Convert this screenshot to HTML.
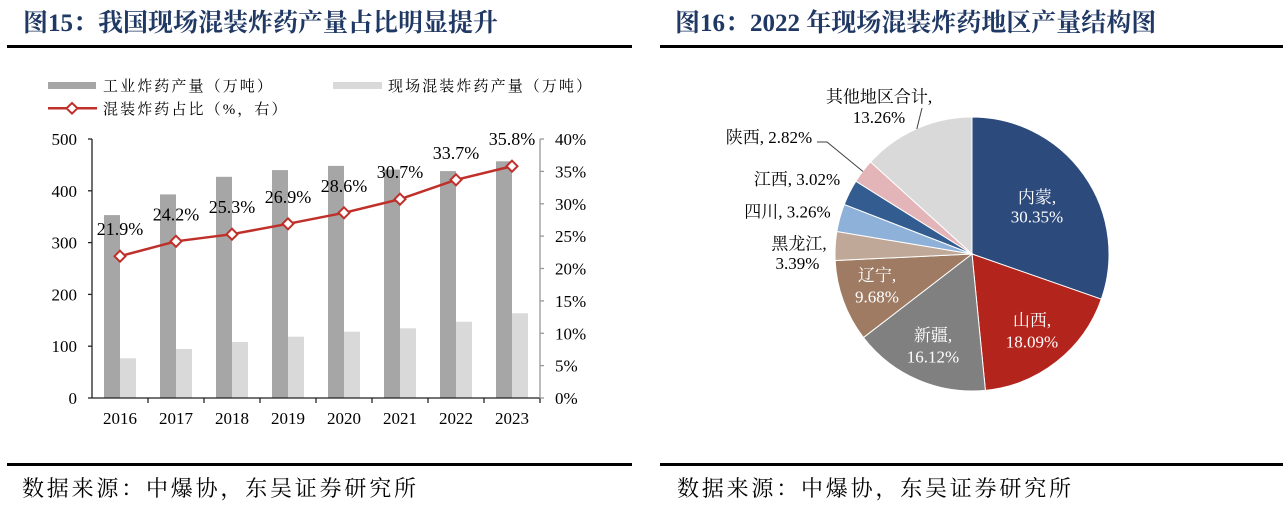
<!DOCTYPE html>
<html>
<head>
<meta charset="utf-8">
<style>
  html,body{margin:0;padding:0;background:#fff;}
  svg{display:block;}
  .ser{font-family:"Liberation Serif","Noto Serif CJK SC",serif;}
</style>
</head>
<body>
<svg width="1286" height="513" viewBox="0 0 1286 513" xmlns="http://www.w3.org/2000/svg" class="ser">
  <!-- Titles -->
  <text x="23" y="31" font-size="25" font-weight="bold" fill="#203864" class="ser">图15：我国现场混装炸药产量占比明显提升</text>
  <text x="675" y="31" font-size="25" font-weight="bold" fill="#203864" class="ser">图16：2022 年现场混装炸药地区产量结构图</text>
  <rect x="7" y="45" width="625" height="3" fill="#000"/>
  <rect x="660" y="45" width="623" height="3" fill="#000"/>

  <!-- Legend -->
  <rect x="48" y="82" width="48" height="7" fill="#A6A6A6"/>
  <text x="103" y="91" font-size="15" letter-spacing="2.1" fill="#000">工业炸药产量（万吨）</text>
  <rect x="333" y="82" width="49" height="7" fill="#D9D9D9"/>
  <text x="388" y="91" font-size="15" letter-spacing="2.1" fill="#000">现场混装炸药产量（万吨）</text>
  <line x1="48" y1="108.3" x2="97" y2="108.3" stroke="#C0302A" stroke-width="2.5"/>
  <polygon points="72,103 77.5,108.3 72,113.6 66.5,108.3" fill="#fff" stroke="#C0302A" stroke-width="2"/>
  <text x="103" y="114" font-size="15" letter-spacing="2.1" fill="#000">混装炸药占比（%，右）</text>

  <!-- Bars: dark -->
  <g fill="#A6A6A6">
    <rect x="104" y="215.1" width="16" height="182.9"/>
    <rect x="160" y="194.4" width="16" height="203.6"/>
    <rect x="216" y="176.8" width="16" height="221.2"/>
    <rect x="272" y="170.1" width="16" height="227.9"/>
    <rect x="328" y="165.9" width="16" height="232.1"/>
    <rect x="384" y="169.6" width="16" height="228.4"/>
    <rect x="440" y="171.1" width="16" height="226.9"/>
    <rect x="496" y="161.3" width="16" height="236.7"/>
  </g>
  <!-- Bars: light -->
  <g fill="#D9D9D9">
    <rect x="120" y="358.3" width="16" height="39.7"/>
    <rect x="176" y="349" width="16" height="49"/>
    <rect x="232" y="342" width="16" height="56"/>
    <rect x="288" y="336.7" width="16" height="61.3"/>
    <rect x="344" y="331.7" width="16" height="66.3"/>
    <rect x="400" y="328.3" width="16" height="69.7"/>
    <rect x="456" y="321.7" width="16" height="76.3"/>
    <rect x="512" y="313.3" width="16" height="84.7"/>
  </g>

  <!-- Axes -->
  <g stroke="#222" stroke-width="1.3">
    <line x1="92" y1="139" x2="92" y2="398"/>
    <line x1="88" y1="139" x2="92" y2="139"/>
    <line x1="88" y1="190.8" x2="92" y2="190.8"/>
    <line x1="88" y1="242.6" x2="92" y2="242.6"/>
    <line x1="88" y1="294.4" x2="92" y2="294.4"/>
    <line x1="88" y1="346.2" x2="92" y2="346.2"/>
    <line x1="88" y1="398" x2="540" y2="398"/>
    <line x1="148" y1="398" x2="148" y2="403"/>
    <line x1="204" y1="398" x2="204" y2="403"/>
    <line x1="260" y1="398" x2="260" y2="403"/>
    <line x1="316" y1="398" x2="316" y2="403"/>
    <line x1="372" y1="398" x2="372" y2="403"/>
    <line x1="428" y1="398" x2="428" y2="403"/>
    <line x1="484" y1="398" x2="484" y2="403"/>
    <line x1="540" y1="398" x2="540" y2="403"/>
  </g>
  <g stroke="#999" stroke-width="1.3">
    <line x1="540" y1="139" x2="540" y2="398"/>
    <line x1="540" y1="139" x2="544" y2="139"/>
    <line x1="540" y1="171.4" x2="544" y2="171.4"/>
    <line x1="540" y1="203.8" x2="544" y2="203.8"/>
    <line x1="540" y1="236.1" x2="544" y2="236.1"/>
    <line x1="540" y1="268.5" x2="544" y2="268.5"/>
    <line x1="540" y1="300.9" x2="544" y2="300.9"/>
    <line x1="540" y1="333.3" x2="544" y2="333.3"/>
    <line x1="540" y1="365.6" x2="544" y2="365.6"/>
    <line x1="540" y1="398" x2="544" y2="398"/>
  </g>

  <!-- Left axis labels -->
  <g font-size="17" fill="#000" text-anchor="end">
    <text x="77" y="145">500</text>
    <text x="77" y="196.8">400</text>
    <text x="77" y="248.6">300</text>
    <text x="77" y="300.4">200</text>
    <text x="77" y="352.2">100</text>
    <text x="77" y="404">0</text>
  </g>
  <!-- Right axis labels -->
  <g font-size="17" fill="#000">
    <text x="555" y="145">40%</text>
    <text x="555" y="177.4">35%</text>
    <text x="555" y="209.8">30%</text>
    <text x="555" y="242.1">25%</text>
    <text x="555" y="274.5">20%</text>
    <text x="555" y="306.9">15%</text>
    <text x="555" y="339.3">10%</text>
    <text x="555" y="371.6">5%</text>
    <text x="555" y="404">0%</text>
  </g>
  <!-- X labels -->
  <g font-size="17" fill="#000" text-anchor="middle">
    <text x="120" y="424">2016</text>
    <text x="176" y="424">2017</text>
    <text x="232" y="424">2018</text>
    <text x="288" y="424">2019</text>
    <text x="344" y="424">2020</text>
    <text x="400" y="424">2021</text>
    <text x="456" y="424">2022</text>
    <text x="512" y="424">2023</text>
  </g>

  <!-- Line series -->
  <polyline points="120,256.2 176,241.3 232,234.2 288,223.8 344,212.8 400,199.2 456,179.8 512,166.2" fill="none" stroke="#C0302A" stroke-width="2.5"/>
  <g fill="#fff" stroke="#C0302A" stroke-width="2">
    <polygon points="120,250.7 125.5,256.2 120,261.7 114.5,256.2"/>
    <polygon points="176,235.8 181.5,241.3 176,246.8 170.5,241.3"/>
    <polygon points="232,228.7 237.5,234.2 232,239.7 226.5,234.2"/>
    <polygon points="288,218.3 293.5,223.8 288,229.3 282.5,223.8"/>
    <polygon points="344,207.3 349.5,212.8 344,218.3 338.5,212.8"/>
    <polygon points="400,193.7 405.5,199.2 400,204.7 394.5,199.2"/>
    <polygon points="456,174.3 461.5,179.8 456,185.3 450.5,179.8"/>
    <polygon points="512,160.7 517.5,166.2 512,171.7 506.5,166.2"/>
  </g>
  <!-- Data labels -->
  <g font-size="18" fill="#000" text-anchor="middle">
    <text x="120" y="235.2">21.9%</text>
    <text x="176" y="220.3">24.2%</text>
    <text x="232" y="213.2">25.3%</text>
    <text x="288" y="202.8">26.9%</text>
    <text x="344" y="191.8">28.6%</text>
    <text x="400" y="178.2">30.7%</text>
    <text x="456" y="158.8">33.7%</text>
    <text x="512" y="145.2">35.8%</text>
  </g>

  <!-- Pie -->
  <g stroke="#fff" stroke-width="1">
    <path d="M972,254 L972,117 A137,137 0 0 1 1101.34,299.2 Z" fill="#2C4A7C"/>
    <path d="M972,254 L1101.34,299.2 A137,137 0 0 1 985.41,390.34 Z" fill="#B3241C"/>
    <path d="M972,254 L985.41,390.34 A137,137 0 0 1 863.43,337.56 Z" fill="#808080"/>
    <path d="M972,254 L863.43,337.56 A137,137 0 0 1 835.16,260.55 Z" fill="#9E7B62"/>
    <path d="M972,254 L835.16,260.55 A137,137 0 0 1 836.87,231.46 Z" fill="#C0A898"/>
    <path d="M972,254 L836.87,231.46 A137,137 0 0 1 844.27,204.46 Z" fill="#8EB1DA"/>
    <path d="M972,254 L844.27,204.46 A137,137 0 0 1 855.9,181.26 Z" fill="#335C91"/>
    <path d="M972,254 L855.9,181.26 A137,137 0 0 1 870.55,161.92 Z" fill="#E4B5B8"/>
    <path d="M972,254 L870.55,161.92 A137,137 0 0 1 972,117 Z" fill="#D9D9D9"/>
  </g>
  <!-- Leader lines -->
  <polyline points="817,142 827,142 863,171.5" fill="none" stroke="#404040" stroke-width="1"/>
  <line x1="922" y1="108" x2="916.8" y2="129" stroke="#404040" stroke-width="1"/>

  <!-- Pie labels -->
  <g font-size="17" text-anchor="middle">
    <text x="1037" y="203" fill="#fff">内蒙,</text>
    <text x="1037" y="222.5" fill="#fff">30.35%</text>
    <text x="1032" y="326" fill="#fff">山西,</text>
    <text x="1032" y="347.5" fill="#fff">18.09%</text>
    <text x="933" y="341" fill="#fff">新疆,</text>
    <text x="933" y="362.5" fill="#fff">16.12%</text>
    <text x="877" y="281" fill="#fff">辽宁,</text>
    <text x="877" y="302.5" fill="#fff">9.68%</text>
    <text x="799" y="249.5" fill="#000">黑龙江,</text>
    <text x="797.5" y="269" fill="#000">3.39%</text>
    <text x="787.5" y="217.5" fill="#000">四川, 3.26%</text>
    <text x="797" y="185" fill="#000">江西, 3.02%</text>
    <text x="769" y="143" fill="#000">陕西, 2.82%</text>
    <text x="879" y="102.5" fill="#000">其他地区合计,</text>
    <text x="879" y="123" fill="#000">13.26%</text>
  </g>

  <!-- Bottom lines and sources -->
  <rect x="7" y="463" width="625" height="3" fill="#000"/>
  <rect x="660" y="463" width="623" height="3" fill="#000"/>
  <text x="22" y="496" font-size="22" letter-spacing="2.8" fill="#000">数据来源：中爆协，东吴证券研究所</text>
  <text x="677" y="496" font-size="22" letter-spacing="2.8" fill="#000">数据来源：中爆协，东吴证券研究所</text>
</svg>
</body>
</html>
